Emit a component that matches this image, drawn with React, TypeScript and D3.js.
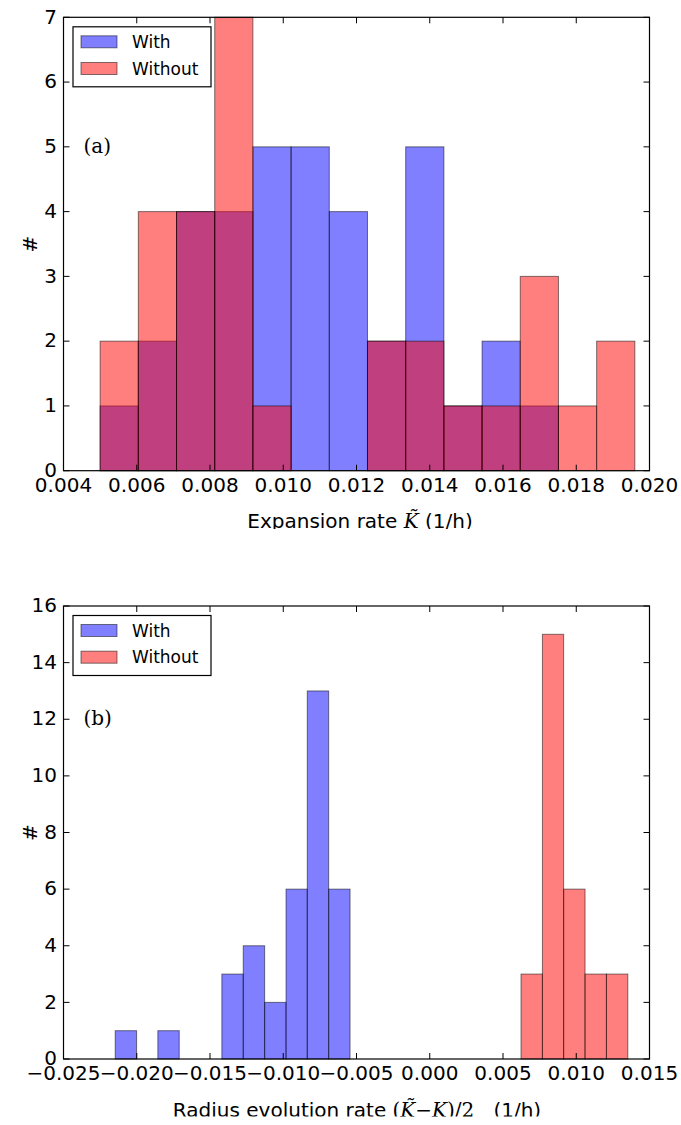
import React from "react";
import * as d3 from "d3";

// Panel (a): expansion rate histogram, shared bin edges (1/h)
const expansionEdges = [
  0.005, 0.006043, 0.007086, 0.008129, 0.009171, 0.010214, 0.011257, 0.0123,
  0.013343, 0.014386, 0.015429, 0.016471, 0.017514, 0.018557, 0.0196,
];
const expansionWith = [1, 2, 4, 4, 5, 5, 4, 2, 5, 1, 2, 1, 0, 0];
const expansionWithout = [2, 4, 4, 7, 1, 0, 0, 2, 2, 1, 1, 3, 1, 2];
const expansionXTicks = [0.004, 0.006, 0.008, 0.01, 0.012, 0.014, 0.016, 0.018, 0.02];
const expansionYTicks = [0, 1, 2, 3, 4, 5, 6, 7];

// Panel (b): radius evolution rate histogram (1/h)
const radiusWithEdges = [
  -0.02147, -0.02001, -0.01856, -0.0171, -0.01564, -0.01419, -0.01273, -0.01127,
  -0.00981, -0.00836, -0.0069, -0.00544,
];
const radiusWith = [1, 0, 1, 0, 0, 3, 4, 2, 6, 13, 6];
const radiusWithoutEdges = [0.00623, 0.00769, 0.00914, 0.0106, 0.01206, 0.01352];
const radiusWithout = [3, 15, 6, 3, 3];
const radiusXTicks = [-0.025, -0.02, -0.015, -0.01, -0.005, 0, 0.005, 0.01, 0.015];
const radiusYTicks = [0, 2, 4, 6, 8, 10, 12, 14, 16];

const seriesNames = ["With", "Without"];
const BLUE = "#0000ff";
const RED = "#ff0000";
const SANS = "'DejaVu Sans', sans-serif";
const SERIF = "'DejaVu Serif', 'Liberation Serif', serif";

type Hist = { edges: number[]; counts: number[]; color: string };

type PanelProps = {
  id: string;
  top: number;
  bottom: number;
  clipTop: number;
  clipBottom: number;
  xDomain: [number, number];
  yDomain: [number, number];
  xTicks: number[];
  yTicks: number[];
  hists: Hist[];
  tag: string;
  tagValue: number;
  xLabel: React.ReactNode;
  xLabelCenter: number;
  xLabelBaseline: number;
};

const LEFT = 63.5;
const RIGHT = 649.5;
const TICK = 6;

function Panel(p: PanelProps) {
  const x = d3.scaleLinear().domain(p.xDomain).range([LEFT, RIGHT]);
  const y = d3.scaleLinear().domain(p.yDomain).range([p.bottom, p.top]);
  const fmtX = d3.format(".3f");
  const legendTop = p.top + 9.5;
  const clipId = `clip-${p.id}`;

  return (
    <g>
      <defs>
        <clipPath id={clipId}>
          <rect x={0} y={p.clipTop} width={681} height={p.clipBottom - p.clipTop} />
        </clipPath>
      </defs>
      <g clipPath={`url(#${clipId})`}>
        {/* bars */}
        {p.hists.map((h, hi) => (
          <g key={hi}>
            {h.counts.map((c, i) =>
              c > 0 ? (
                <rect
                  key={i}
                  x={x(h.edges[i])}
                  y={y(c)}
                  width={x(h.edges[i + 1]) - x(h.edges[i])}
                  height={y(0) - y(c)}
                  fill={h.color}
                  fillOpacity={0.5}
                  stroke="#000"
                  strokeOpacity={0.5}
                  strokeWidth={1}
                />
              ) : null
            )}
          </g>
        ))}

        {/* frame */}
        <rect
          x={LEFT}
          y={p.top}
          width={RIGHT - LEFT}
          height={p.bottom - p.top}
          fill="none"
          stroke="#000"
          strokeWidth={1.2}
        />

        {/* x ticks, top and bottom, inward */}
        {p.xTicks.map((t) => (
          <g key={`x${t}`}>
            <line x1={x(t)} x2={x(t)} y1={p.bottom} y2={p.bottom - TICK} stroke="#000" strokeWidth={1} />
            <line x1={x(t)} x2={x(t)} y1={p.top} y2={p.top + TICK} stroke="#000" strokeWidth={1} />
            <text
              x={x(t)}
              y={p.bottom + 21.3}
              textAnchor="middle"
              fontFamily={SANS}
              fontSize={20}
              fill="#000"
            >
              {fmtX(t)}
            </text>
          </g>
        ))}

        {/* y ticks, left and right, inward */}
        {p.yTicks.map((t) => (
          <g key={`y${t}`}>
            <line x1={LEFT} x2={LEFT + TICK} y1={y(t)} y2={y(t)} stroke="#000" strokeWidth={1} />
            <line x1={RIGHT} x2={RIGHT - TICK} y1={y(t)} y2={y(t)} stroke="#000" strokeWidth={1} />
            <text
              x={LEFT - 6.5}
              y={y(t) + 6.2}
              textAnchor="end"
              fontFamily={SANS}
              fontSize={20}
              fill="#000"
            >
              {t}
            </text>
          </g>
        ))}

        {/* y axis label */}
        <text
          transform={`translate(${36.5},${(p.top + p.bottom) / 2}) rotate(-90)`}
          textAnchor="middle"
          fontFamily={SANS}
          fontSize={20}
          fill="#000"
        >
          #
        </text>

        {/* panel tag */}
        <text
          x={LEFT + 20}
          y={y(p.tagValue) + 6}
          fontFamily={SERIF}
          fontSize={20}
          fill="#000"
        >
          {p.tag}
        </text>

        {/* legend */}
        <rect x={73} y={legendTop} width={138} height={60} fill="#fff" stroke="#000" strokeWidth={1.2} />
        {p.hists.map((h, i) => (
          <g key={`leg${i}`}>
            <rect
              x={81}
              y={legendTop + 9 + i * 26.7}
              width={36}
              height={12}
              fill={h.color}
              fillOpacity={0.5}
              stroke="#000"
              strokeOpacity={0.5}
            />
            <text
              x={132}
              y={legendTop + 21 + i * 26.7}
              fontFamily={SANS}
              fontSize={17}
              fill="#000"
            >
              {seriesNames[i]}
            </text>
          </g>
        ))}

        {/* x axis label */}
        <text
          x={p.xLabelCenter}
          y={p.xLabelBaseline}
          textAnchor="middle"
          fontFamily={SANS}
          fontSize={20}
          fill="#000"
        >
          {p.xLabel}
        </text>
      </g>
    </g>
  );
}

export default function App() {
  return (
    <svg
      width={681}
      height={1125}
      viewBox="0 0 681 1125"
      style={{ position: "absolute", left: 0, top: 0, display: "block", background: "#fff" }}
    >
      <rect width={681} height={1125} fill="#fff" />
      <Panel
        id="a"
        top={17.3}
        bottom={470.7}
        clipTop={0}
        clipBottom={529}
        xDomain={[0.004, 0.02]}
        yDomain={[0, 7]}
        xTicks={expansionXTicks}
        yTicks={expansionYTicks}
        hists={[
          { edges: expansionEdges, counts: expansionWith, color: BLUE },
          { edges: expansionEdges, counts: expansionWithout, color: RED },
        ]}
        tag="(a)"
        tagValue={5}
        xLabelCenter={360}
        xLabelBaseline={528}
        xLabel={
          <>
            Expansion rate{" "}
            <tspan fontFamily={SERIF} fontStyle="italic">
              {"K\u0303"}
            </tspan>{" "}
            (1/h)
          </>
        }
      />
      <Panel
        id="b"
        top={606}
        bottom={1059}
        clipTop={540}
        clipBottom={1116.5}
        xDomain={[-0.025, 0.015]}
        yDomain={[0, 16]}
        xTicks={radiusXTicks}
        yTicks={radiusYTicks}
        hists={[
          { edges: radiusWithEdges, counts: radiusWith, color: BLUE },
          { edges: radiusWithoutEdges, counts: radiusWithout, color: RED },
        ]}
        tag="(b)"
        tagValue={12}
        xLabelCenter={357}
        xLabelBaseline={1117}
        xLabel={
          <>
            Radius evolution rate{" "}
            <tspan fontFamily={SERIF}>
              (<tspan fontStyle="italic">{"K\u0303"}</tspan>
              {"\u2212"}
              <tspan fontStyle="italic">K</tspan>)/2
            </tspan>
            {"\u00a0\u00a0\u00a0"}(1/h)
          </>
        }
      />
    </svg>
  );
}
